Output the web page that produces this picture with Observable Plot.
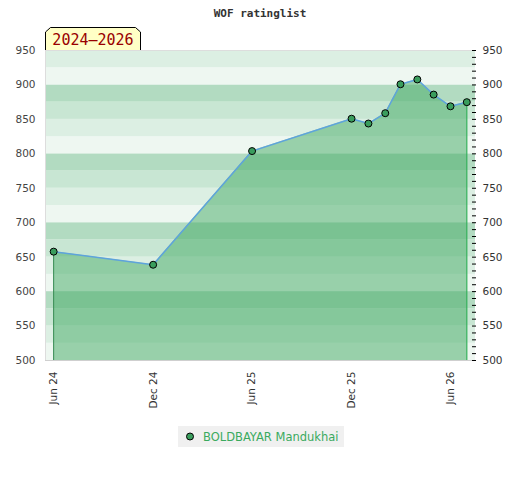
<!DOCTYPE html>
<html>
<head>
<meta charset="utf-8">
<script src="https://cdn.jsdelivr.net/npm/d3@7"></script>
<script src="https://cdn.jsdelivr.net/npm/@observablehq/plot@0.6"></script>
<style>
  body { margin: 0; background: #fff; }
  #chart { width: 520px; height: 480px; }
</style>
</head>
<body>
<div id="chart"></div>
<script>
// ---- data ----
const months = ["2024-06-01","2024-12-01","2025-06-01","2025-12-01","2026-01-01","2026-02-01","2026-03-01","2026-04-01","2026-05-01","2026-06-01","2026-07-01"];
const ratings = [658, 639, 804, 851, 844, 859, 901, 908, 886, 869, 875];
const xTickDates = ["2024-06-01","2024-12-01","2025-06-01","2025-12-01","2026-06-01"];
const yMajorTicks = [500, 550, 600, 650, 700, 750, 800, 850, 900, 950];
const yMinorTicks = d3.range(500, 951, 10);
const bandStarts = d3.range(500, 950, 25);
const bandColors = ["#eef7f1", "#dcefe3", "#c8e6d3", "#b2dbc1"];
const playerName = "BOLDBAYAR Mandukhai";
const titleText = "WOF ratinglist";
const periodText = "2024–2026";

const data = months.map((m, i) => ({date: new Date(m), rating: ratings[i]}));
const xDomain = [new Date("2024-05-17"), new Date("2026-07-17")];
const first = data[0], last = data[data.length - 1];

const plot = Plot.plot({
  width: 520,
  height: 480,
  marginTop: 50,
  marginBottom: 120,
  marginLeft: 45,
  marginRight: 45,
  style: {fontFamily: "DejaVu Sans", fontSize: "10.5px", background: "#fff"},
  x: {type: "utc", domain: xDomain, label: null},
  y: {domain: [500, 950], label: null},
  marks: [
    Plot.rect(bandStarts, {y1: d => d, y2: d => d + 25, fill: d => bandColors[Math.floor((d % 100) / 25)]}),
    Plot.areaY(data, {x: "date", y1: 500, y2: "rating", fill: "#41aa64", fillOpacity: 0.5}),
    Plot.ruleX([first], {x: "date", y1: 500, y2: "rating", stroke: "#3b8c55", strokeWidth: 1}),
    Plot.ruleX([last], {x: "date", y1: 500, y2: "rating", stroke: "#2fae55", strokeWidth: 1.2}),
    Plot.line(data, {x: "date", y: "rating", stroke: "#5ea3dc", strokeWidth: 1.5}),
    Plot.ruleY([500], {stroke: "#cfcfcf"}),
    Plot.ruleY([950], {stroke: "#dddddd"}),
    Plot.ruleX([xDomain[0]], {stroke: "#dddddd"}),
    Plot.dot(data, {x: "date", y: "rating", r: 3.5, fill: "#3a9d5d", stroke: "#000", strokeWidth: 1}),
    Plot.axisY({anchor: "left", ticks: yMajorTicks, tickSize: 0, tickPadding: 10, fill: "#444", tickFormat: d => d, label: null}),
    Plot.axisY({anchor: "right", ticks: yMinorTicks, tickSize: 4, dx: -4, stroke: "#000", tickFormat: () => "", label: null}),
    Plot.axisY({anchor: "right", ticks: yMajorTicks, tickSize: 0, tickPadding: 7, fill: "#333", tickFormat: d => d, label: null}),
    Plot.axisX({ticks: xTickDates.map(d => new Date(d)), tickFormat: d3.utcFormat("%b %y"), tickRotate: -90, tickSize: 0, tickPadding: 11, fill: "#333", label: null})
  ]
});

const svg = d3.select(plot);
// title
svg.append("text").attr("x", 260).attr("y", 17).attr("text-anchor", "middle")
  .attr("font-family", "DejaVu Sans Mono").attr("font-weight", "bold").attr("font-size", "11px")
  .attr("fill", "#333").text(titleText);
// period box
svg.append("path").attr("d", "M45.5,50 L45.5,32 L50.5,27.5 L135.5,27.5 L140.5,32 L140.5,50")
  .attr("fill", "#ffffc6").attr("stroke", "#000").attr("stroke-width", 1);
svg.append("text").attr("x", 93).attr("y", 45).attr("text-anchor", "middle")
  .attr("font-family", "DejaVu Sans Mono").attr("font-size", "15px")
  .attr("fill", "#990000").text(periodText);
// legend
svg.append("rect").attr("x", 178).attr("y", 426).attr("width", 166).attr("height", 21).attr("fill", "#f0f0f0");
svg.append("circle").attr("cx", 190).attr("cy", 436.5).attr("r", 3.5).attr("fill", "#3a9d5d").attr("stroke", "#000");
svg.append("text").attr("x", 203).attr("y", 440.5).attr("text-anchor", "start")
  .attr("font-family", "DejaVu Sans").attr("font-size", "11.5px")
  .attr("fill", "#3aaa5e").text(playerName);

document.getElementById("chart").appendChild(plot);
</script>
</body>
</html>
